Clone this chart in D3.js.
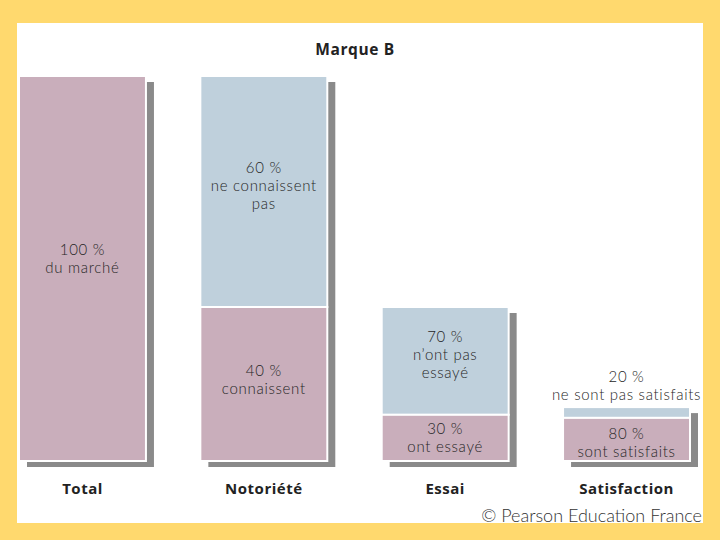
<!DOCTYPE html>
<html>
<head>
<meta charset="utf-8">
<script src="https://cdn.jsdelivr.net/npm/d3@7"></script>
<style>
  body { margin: 0; background: #ffd96e; }
  svg { display: block; }
</style>
</head>
<body>
<script>
// categories and values
var categories = ['Total', 'Notoriété', 'Essai', 'Satisfaction']
// height of each bar, in % of the market (as drawn)
var barTotals = [100, 100, 40, 14]
// share of the bar in the lower (pink) segment, in %
var lowerShare = [100, 40, 30, 80]
var lowerLabels = [['100 %', 'du marché'], ['40 %', 'connaissent'], ['30 %', 'ont essayé'], ['80 %', 'sont satisfaits']]
var upperLabels = [null, ['60 %', 'ne connaissent', 'pas'], ['70 %', 'n\u2019ont pas', 'essayé'], ['20 %', 'ne sont pas satisfaits']]

var _width = 720
var _height = 540
var _pink = '#c9aebb'
var _blue = '#bfd0dc'
var _shadow = '#8a8a8a'
var _font = 'Lato, sans-serif'
var _boldFont = '"Open Sans", sans-serif'

var svg = d3.select('body')
    .append('svg')
    .attr('width', _width)
    .attr('height', _height)

svg.append('rect')
    .attr('x', 0).attr('y', 0)
    .attr('width', _width).attr('height', _height)
    .attr('fill', '#ffd96e')

svg.append('rect')
    .attr('x', 17).attr('y', 23)
    .attr('width', 686).attr('height', 500)
    .attr('fill', '#fff')

var x = d3.scaleBand()
    .domain(categories)
    .range([19, 690])
    .paddingInner(0.3)
    .paddingOuter(0)

var y = d3.scaleLinear()
    .domain([0, 100])
    .range([461, 76])

var data = categories.map(function (c, i) {
    var lower = barTotals[i] * lowerShare[i] / 100
    return {cat: c, total: barTotals[i], lower: lower, lowerLabel: lowerLabels[i], upperLabel: upperLabels[i]}
})

var bodyG = svg.append('g').attr('class', 'body')

// shadows
bodyG.selectAll('rect.shadow')
    .data(data)
    .enter()
    .append('rect')
    .attr('class', 'shadow')
    .attr('x', d => x(d.cat) + 8)
    .attr('y', d => y(d.total) + 6)
    .attr('width', x.bandwidth())
    .attr('height', d => y(0) - y(d.total))
    .attr('fill', _shadow)

// upper (blue) segments
bodyG.selectAll('rect.upper')
    .data(data.filter(d => d.total > d.lower))
    .enter()
    .append('rect')
    .attr('class', 'upper')
    .attr('x', d => x(d.cat))
    .attr('y', d => y(d.total))
    .attr('width', x.bandwidth())
    .attr('height', d => y(d.lower) - y(d.total))
    .attr('fill', _blue)
    .attr('stroke', '#fff')
    .attr('stroke-width', 2)

// lower (pink) segments
bodyG.selectAll('rect.lower')
    .data(data)
    .enter()
    .append('rect')
    .attr('class', 'lower')
    .attr('x', d => x(d.cat))
    .attr('y', d => y(d.lower))
    .attr('width', x.bandwidth())
    .attr('height', d => y(0) - y(d.lower))
    .attr('fill', _pink)
    .attr('stroke', '#fff')
    .attr('stroke-width', 2)

function addLines(g, lines, cx, cy) {
    var lh = 18
    var t = g.append('text')
        .attr('text-anchor', 'middle')
        .attr('font-family', _font)
        .attr('font-weight', 300)
        .attr('font-size', 15)
        .attr('letter-spacing', 0.7)
        .attr('fill', '#262626')
    lines.forEach(function (l, i) {
        t.append('tspan')
            .attr('x', cx)
            .attr('y', cy - (lines.length - 1) * lh / 2 + i * lh + 5)
            .text(l)
    })
}

var labelG = bodyG.append('g').attr('class', 'labels')
data.forEach(function (d) {
    var cx = x(d.cat) + x.bandwidth() / 2
    var lowMid = (y(d.lower) + y(0)) / 2
    var off = d.total === d.lower ? -10 : (d.lower > 20 ? -4 : (d.total > 20 ? 0 : 4))
    addLines(labelG, d.lowerLabel, cx, lowMid + off)
    if (d.upperLabel) {
        var top = y(d.total), bot = y(d.lower)
        if (bot - top > 50) {
            addLines(labelG, d.upperLabel, cx, (top + bot) / 2 - 6)
        } else {
            addLines(labelG, d.upperLabel, cx, top - 21)
        }
    }
})

// category labels
bodyG.selectAll('text.cat')
    .data(categories)
    .enter()
    .append('text')
    .attr('class', 'cat')
    .attr('x', d => x(d) + x.bandwidth() / 2)
    .attr('y', 494)
    .attr('text-anchor', 'middle')
    .attr('font-family', _boldFont)
    .attr('font-weight', 'bold')
    .attr('font-size', 15)
    .attr('letter-spacing', 0.5)
    .attr('fill', '#222')
    .text(d => d)

svg.append('text')
    .attr('x', 355)
    .attr('y', 55)
    .attr('text-anchor', 'middle')
    .attr('font-family', _boldFont)
    .attr('font-weight', 'bold')
    .attr('font-size', 15.5)
    .attr('letter-spacing', 0.6)
    .attr('fill', '#222')
    .text('Marque B')

svg.append('text')
    .attr('x', 702)
    .attr('y', 522)
    .attr('text-anchor', 'end')
    .attr('font-family', 'Lato, sans-serif')
    .attr('font-weight', 300)
    .attr('font-size', 18)
    .attr('fill', '#333')
    .text('© Pearson Education France')
</script>
</body>
</html>
